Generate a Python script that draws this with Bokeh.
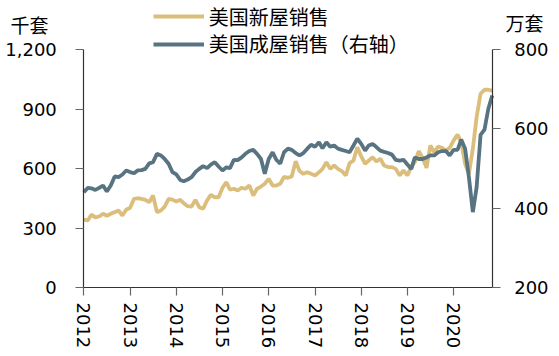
import pandas as pd
from bokeh.plotting import figure
from bokeh.models import (Range1d, LinearAxis, FixedTicker, NumeralTickFormatter,
                          DatetimeTickFormatter, Legend, LegendItem, Label, ColumnDataSource)
from bokeh.embed import file_html
from bokeh.resources import INLINE

# ---- data ----
months = pd.date_range("2012-01-01", "2020-11-01", freq="MS")

new_home_sales = [  # 千套 (left axis)
    342, 338, 367, 354, 358, 372, 362, 372, 380, 388, 363, 392,
    402, 447, 450, 447, 442, 430, 464, 380, 388, 408, 447, 443,
    434, 442, 425, 410, 408, 442, 405, 397, 439, 467, 455, 455,
    503, 531, 493, 498, 489, 503, 498, 514, 464, 498, 509, 523,
    548, 514, 514, 523, 558, 553, 560, 637, 587, 573, 581, 573,
    565, 581, 598, 632, 598, 615, 598, 587, 565, 627, 640, 707,
    661, 624, 640, 657, 635, 649, 615, 607, 607, 598, 565, 590,
    565, 610, 632, 687, 654, 603, 716, 682, 711, 704, 691, 704,
    741, 771, 733, 624, 573, 700, 860, 977, 997, 997, 993,
]

existing_home_sales = [  # 万套 (right axis)
    440, 451, 450, 446, 451, 457, 442, 457, 480, 478, 485, 495,
    491, 488, 495, 496, 499, 513, 516, 537, 533, 524, 512, 491,
    485, 471, 468, 472, 478, 491, 499, 506, 501, 510, 516, 505,
    495, 503, 501, 522, 521, 528, 537, 544, 547, 537, 524, 487,
    524, 541, 522, 512, 541, 550, 547, 539, 533, 539, 550, 560,
    555, 566, 551, 566, 555, 558, 550, 547, 544, 541, 558, 575,
    562, 545, 558, 562, 554, 545, 542, 539, 535, 522, 520, 522,
    510, 499, 528, 524, 524, 528, 533, 533, 541, 544, 544, 533,
    547, 547, 573, 550, 478, 390, 453, 585, 598, 650, 684,
]

year_ticks = [2012, 2013, 2014, 2015, 2016, 2017, 2018, 2019, 2020]
left_ticks = [0, 300, 600, 900, 1200]
right_ticks = [200, 400, 600, 800]

series_names = ["美国新屋销售", "美国成屋销售（右轴）"]
left_unit = "千套"
right_unit = "万套"

# ---- layout (canvas pixels) ----
W, H = 555, 352
PL, PR, PT, PB = 83.3, 491.7, 49.0, 287.0   # plot area edges inside the canvas

C_NEW = "#DBBE7B"
C_EXIST = "#587381"
TICK_FONT = "DejaVu Sans"
CJK_FONT = "Noto Sans CJK SC"

t0 = months[0].timestamp() * 1000
t1 = months[-1].timestamp() * 1000
kx = (PR - PL) / (t1 - t0)
x_start, x_end = t0 - PL / kx, t1 + (W - PR) / kx

l_lo, l_hi = left_ticks[0], left_ticks[-1]
kl = (PB - PT) / (l_hi - l_lo)
r_lo, r_hi = right_ticks[0], right_ticks[-1]
kr = (PB - PT) / (r_hi - r_lo)

src = ColumnDataSource(dict(date=months, new=new_home_sales, existing=existing_home_sales))

p = figure(width=W, height=H, x_axis_type="datetime",
           output_backend="svg", toolbar_location=None,
           x_range=Range1d(x_start, x_end),
           y_range=Range1d(l_lo - (H - PB) / kl, l_hi + PT / kl),
           min_border_left=0, min_border_right=0,
           min_border_top=0, min_border_bottom=0)
p.extra_y_ranges = {"right": Range1d(r_lo - (H - PB) / kr, r_hi + PT / kr)}

p.xgrid.visible = False
p.ygrid.visible = False
p.outline_line_color = None
p.background_fill_color = "white"
p.border_fill_color = "white"

r_new = p.line("date", "new", source=src, line_color=C_NEW, line_width=3.8)
r_exist = p.line("date", "existing", source=src, y_range_name="right",
                 line_color=C_EXIST, line_width=3.8)

right_axis = LinearAxis(y_range_name="right")
p.add_layout(right_axis, "right")

year_ms = [pd.Timestamp(f"{y}-01-01").timestamp() * 1000 for y in year_ticks]
xax = p.xaxis[0]
xax.ticker = FixedTicker(ticks=year_ms)
xax.formatter = DatetimeTickFormatter(
    years="%Y", months="%Y", days="%Y", hours="%Y", minutes="%Y",
    seconds="%Y", milliseconds="%Y", microseconds="%Y",
    hourmin="%Y", minsec="%Y")
xax.major_label_orientation = "vertical"
xax.major_label_standoff = 7
xax.fixed_location = l_lo
xax.bounds = (t0, t1)

yax = p.yaxis[0]
yax.ticker = FixedTicker(ticks=left_ticks)
yax.formatter = NumeralTickFormatter(format="0,0")
yax.major_label_standoff = 19
yax.fixed_location = t0
yax.bounds = (l_lo, l_hi)

right_axis.ticker = FixedTicker(ticks=right_ticks)
right_axis.major_label_standoff = 14
right_axis.fixed_location = t1
right_axis.bounds = (r_lo, r_hi)

for ax in [xax, yax, right_axis]:
    ax.axis_line_color = "#333333"
    ax.axis_line_width = 1.2
    ax.major_tick_line_color = "#666666"
    ax.major_tick_line_width = 1.2
    ax.major_tick_in = 0
    ax.major_tick_out = 8
    ax.minor_tick_line_color = None
    ax.major_label_text_font = TICK_FONT
    ax.major_label_text_font_size = "18px"
    ax.major_label_text_color = "black"

def make_legend(label, renderer, loc):
    return Legend(items=[LegendItem(label=label, renderers=[renderer])],
                  location=loc, orientation="vertical",
                  glyph_width=51, glyph_height=20, label_height=20,
                  label_standoff=5, spacing=0, padding=0, margin=0,
                  border_line_alpha=0, background_fill_alpha=0,
                  label_text_font=CJK_FONT, label_text_font_size="20px",
                  label_text_color="black")

p.add_layout(make_legend(series_names[0], r_new, (152.7, H - 30.7)))
p.add_layout(make_legend(series_names[1], r_exist, (152.7, H - 58.3)))

p.add_layout(Label(x=29, y=H - 24, x_units="screen", y_units="screen", text=left_unit,
                   text_font=CJK_FONT, text_font_size="19px", text_align="center",
                   text_baseline="middle", text_color="black"))
p.add_layout(Label(x=524, y=H - 22, x_units="screen", y_units="screen", text=right_unit,
                   text_font=CJK_FONT, text_font_size="19px", text_align="center",
                   text_baseline="middle", text_color="black"))

open("out.html", "w").write(file_html(p, INLINE))
